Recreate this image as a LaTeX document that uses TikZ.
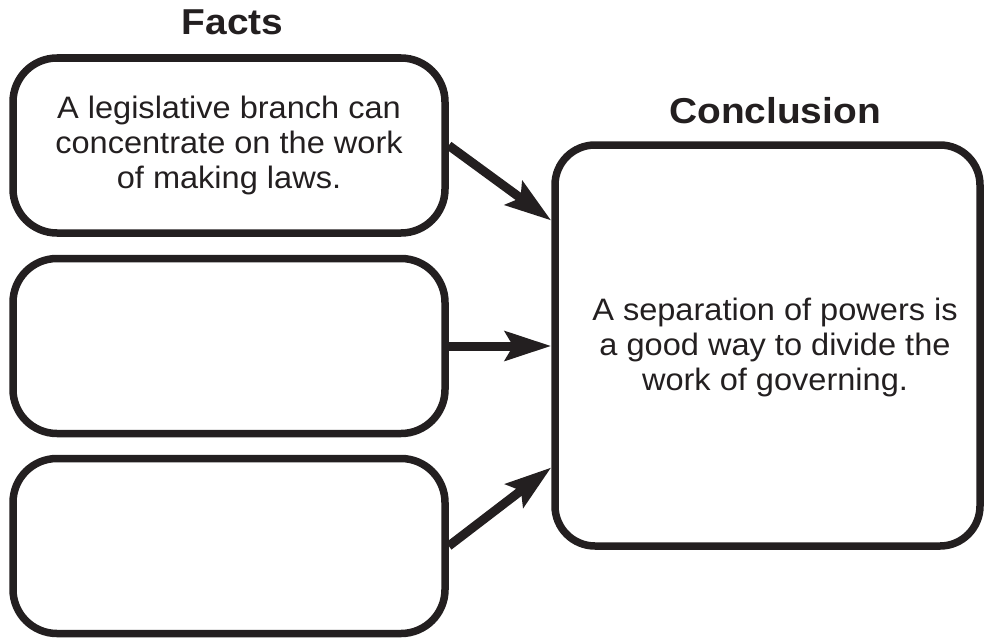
\documentclass[tikz,border=0pt]{standalone}
\usepackage{fontspec}
\setmainfont{Liberation Sans}
\newfontfamily\bodyfont[FakeStretch=1.05]{Liberation Sans}
\newfontfamily\headfont[FakeStretch=1.08]{Liberation Sans}
\usetikzlibrary{arrows.meta}
\definecolor{ink}{HTML}{231F20}
\tikzset{
  factbox/.style={draw=ink, line width=7.5pt, rounded corners=44pt, minimum width=432pt, minimum height=175pt, inner sep=0pt, text=ink, align=center, font=\bodyfont\fontsize{31}{35}\selectfont},
  concbox/.style={draw=ink, line width=7.5pt, rounded corners=40pt, minimum width=425pt, minimum height=401pt, inner sep=0pt},
  bodytext/.style={text=ink, align=center, font=\bodyfont\fontsize{31}{35}\selectfont, inner sep=0pt},
  titletext/.style={text=ink, font=\headfont\fontsize{36}{40}\selectfont\bfseries, inner sep=0pt, anchor=base},
  link/.style={draw=ink, line width=9pt, -{Stealth[length=46pt, width=29pt, inset=8pt]}}
}
\begin{document}
\begin{tikzpicture}[x=1pt, y=-1pt]
  \useasboundingbox (0,0) rectangle (984,642);
  \node[titletext] (facts) at (232.5,35) {Facts};
  \node[titletext] (concl) at (775,123) {Conclusion};
  \node[factbox] (f1) at (229,145.5) {A legislative branch can\\concentrate on the work\\of making laws.};
  \node[factbox] (f2) at (229,346) {};
  \node[factbox] (f3) at (229,546) {};
  \node[concbox] (conc) at (767.5,345.5) {};
  \node[bodytext] (ctext) at (775,347) {A separation of powers is\\a good way to divide the\\work of governing.};
  \draw[link] (f1.east) -- ([yshift=125pt]conc.west);
  \draw[link] (f2.east) -- (conc.west |- f2.east);
  \draw[link] (f3.east) -- ([yshift=-122pt]conc.west);
\end{tikzpicture}
\end{document}
